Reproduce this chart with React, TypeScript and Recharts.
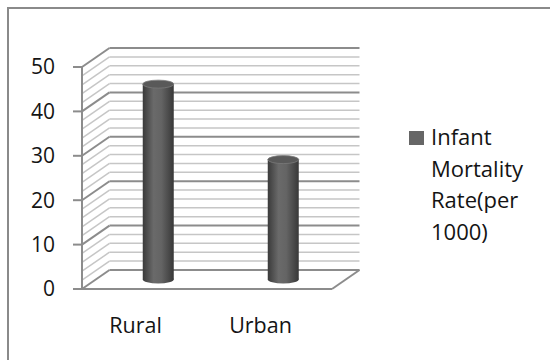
import React from "react";
import { BarChart, Bar, XAxis, YAxis, CartesianGrid, Legend } from "recharts";

const categories = ["Rural", "Urban"];
const infantMortality = [44, 27];
const yTicks = [0, 10, 20, 30, 40, 50];
const gridValues = [0, 2, 4, 6, 8, 10, 12, 14, 16, 18, 20, 22, 24, 26, 28, 30, 32, 34, 36, 38, 40, 42, 44, 46, 48, 50];
const seriesName = "Infant Mortality Rate(per 1000)";
const legendLines = ["Infant", "Mortality", "Rate(per", "1000)"];

const data = categories.map((c, i) => ({ category: c, rate: infantMortality[i] }));

const DX = 27.5;
const DY = 19;
const FONT = "'Open Sans', sans-serif";
const TEXT = "#141414";

const renderGridLine = (props: any) => {
  const { x1, y1, x2, index, y, height } = props;
  const major = index % 5 === 0;
  const stroke = major ? "#8c8c8c" : "#c6c6c6";
  const sw = major ? 2 : 1.5;
  const isZero = Math.abs(y1 - (y + height)) < 0.5;
  return (
    <g key={`grid-${index}`}>
      <line x1={x1 + DX} y1={y1 - DY} x2={x2 + DX} y2={y1 - DY} stroke={stroke} strokeWidth={sw} />
      <line x1={x1} y1={y1} x2={x1 + DX} y2={y1 - DY} stroke={stroke} strokeWidth={sw} />
      {isZero && (
        <line x1={x2} y1={y1} x2={x2 + DX} y2={y1 - DY} stroke="#8c8c8c" strokeWidth={2} />
      )}
    </g>
  );
};

const Cylinder = (props: any) => {
  const { x, y, width, height, index } = props;
  const cx = x + width / 2 + DX / 2;
  const top = y - DY / 2;
  const bottom = y + height - DY / 2;
  const left = cx - width / 2;
  const ry = 4;
  const gid = `cyl-grad-${index}`;
  return (
    <g>
      <defs>
        <linearGradient id={gid} x1="0" y1="0" x2="1" y2="0">
          <stop offset="0%" stopColor="#3a3a3a" />
          <stop offset="35%" stopColor="#6a6a6a" />
          <stop offset="60%" stopColor="#646464" />
          <stop offset="100%" stopColor="#383838" />
        </linearGradient>
      </defs>
      <ellipse cx={cx} cy={bottom} rx={width / 2} ry={ry} fill={`url(#${gid})`} />
      <rect x={left} y={top} width={width} height={bottom - top} fill={`url(#${gid})`} />
      <ellipse cx={cx} cy={top} rx={width / 2} ry={ry} fill="#595959" stroke="#7a7a7a" strokeWidth={0.8} />
    </g>
  );
};

const XTick = (props: any) => {
  const { x, y, payload } = props;
  return (
    <text x={x - 9} y={y + 44} textAnchor="middle" fontFamily={FONT} fontSize={21.5} fill={TEXT}>
      {payload.value}
    </text>
  );
};

const LegendContent = () => (
  <div style={{ position: "relative", width: 140, height: 140, fontFamily: FONT }}>
    <div style={{ position: "absolute", left: 4, top: 11, width: 15, height: 14, background: "#666666" }} />
    <div style={{ position: "absolute", left: 26, top: 1, fontSize: 22, lineHeight: "31.7px", color: TEXT, whiteSpace: "nowrap" }}>
      {legendLines.map((l) => (
        <div key={l}>{l}</div>
      ))}
    </div>
  </div>
);

export default function App() {
  return (
    <div style={{ position: "absolute", left: 0, top: 0, width: 550, height: 360, overflow: "hidden", background: "#fff" }}>
      <div
        style={{
          position: "absolute",
          left: 7,
          top: 7,
          width: 600,
          height: 400,
          borderLeft: "2px solid #8a8a8a",
          borderTop: "2px solid #8a8a8a",
        }}
      />
      <div style={{ position: "absolute", left: 0, top: 0 }}>
        <BarChart width={550} height={360} data={data} margin={{ top: 67, right: 218, bottom: 31, left: 0 }}>
          <CartesianGrid horizontal={renderGridLine} vertical={false} horizontalValues={gridValues} fill="none" />
          <XAxis
            dataKey="category"
            height={40}
            axisLine={{ stroke: "#8c8c8c", strokeWidth: 2 }}
            tickLine={false}
            tickSize={0}
            tickMargin={0}
            tick={<XTick />}
            interval={0}
          />
          <YAxis
            width={82}
            domain={[0, 50]}
            ticks={yTicks}
            interval={0}
            axisLine={{ stroke: "#8c8c8c", strokeWidth: 2 }}
            tickLine={{ stroke: "#8c8c8c", strokeWidth: 2 }}
            tickSize={9}
            tickMargin={18}
            tick={{ fontFamily: FONT, fontSize: 21, fill: TEXT }}
          />
          <Legend
            layout="vertical"
            align="center"
            verticalAlign="middle"
            width={140}
            wrapperStyle={{ left: 405, top: 120 }}
            content={<LegendContent />}
          />
          <Bar dataKey="rate" name={seriesName} fill="#5a5a5a" barSize={31} shape={<Cylinder />} isAnimationActive={false} />
        </BarChart>
      </div>
    </div>
  );
}
